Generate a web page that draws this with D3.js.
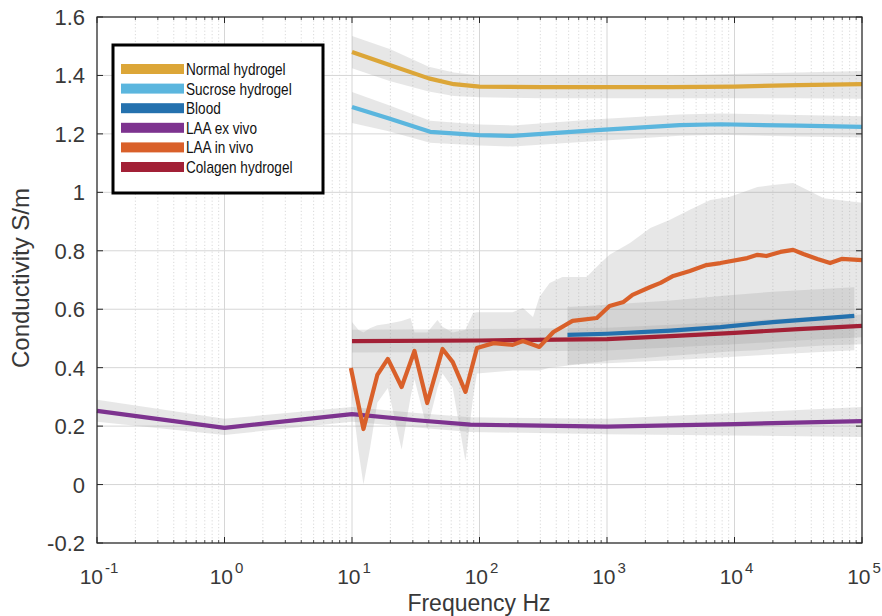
<!DOCTYPE html>
<html><head><meta charset="utf-8">
<script src="https://cdn.jsdelivr.net/npm/d3@7"></script>
<style>body{margin:0;background:#fff}</style>
</head><body><svg id="c" width="882" height="616"></svg>
<script>
// ---- data ----
const seriesNames = ["Normal hydrogel","Sucrose hydrogel","Blood","LAA  ex vivo","LAA in vivo","Colagen hydrogel"];
const seriesColors = ["#DCA638","#5BB6DE","#2471AE","#7D338F","#D9602A","#A22036"];

const normalF = [10, 20, 40, 63, 100, 316, 1000, 3162, 10000, 31623, 100000];
const normalV = [1.48, 1.435, 1.39, 1.37, 1.362, 1.36, 1.36, 1.36, 1.362, 1.367, 1.37];
const normalHi = [1.535, 1.49, 1.43, 1.41, 1.40, 1.40, 1.40, 1.40, 1.405, 1.41, 1.415];
const normalLo = [1.425, 1.38, 1.345, 1.33, 1.325, 1.322, 1.322, 1.322, 1.322, 1.322, 1.32];

const sucroseF = [10, 19, 41, 100, 182, 832, 3715, 7762, 31623, 100000];
const sucroseV = [1.292, 1.254, 1.207, 1.196, 1.193, 1.213, 1.23, 1.233, 1.228, 1.224];
const sucroseHi = [1.343, 1.30, 1.245, 1.232, 1.229, 1.25, 1.266, 1.27, 1.265, 1.26];
const sucroseLo = [1.237, 1.21, 1.17, 1.16, 1.157, 1.176, 1.194, 1.197, 1.191, 1.188];

const bloodF = [490, 1000, 3162, 7762, 20000, 87000];
const bloodV = [0.512, 0.516, 0.527, 0.539, 0.556, 0.577];
const bloodHi = [0.608, 0.615, 0.63, 0.645, 0.66, 0.675];
const bloodLo = [0.41, 0.415, 0.425, 0.435, 0.445, 0.46];

const exVivoF = [0.1, 1, 10, 32, 85, 1000, 10000, 100000];
const exVivoV = [0.252, 0.194, 0.241, 0.22, 0.205, 0.198, 0.207, 0.217];
const exVivoHi = [0.29, 0.225, 0.265, 0.245, 0.23, 0.225, 0.245, 0.265];
const exVivoLo = [0.215, 0.17, 0.215, 0.195, 0.18, 0.172, 0.168, 0.163];

const inVivoF = [9.8, 12.3, 15.8, 19.1, 24.5, 30.9, 38.9, 51.3, 61.7, 77.6, 95.5, 129, 182, 219, 295, 380, 537, 832, 1047, 1349, 1585, 2188, 2630, 3311, 4467, 6026, 7762, 12589, 15136, 17783, 22909, 28840, 34674, 44668, 56234, 69183, 100000];
const inVivoV = [0.399, 0.19, 0.375, 0.43, 0.334, 0.457, 0.279, 0.464, 0.419, 0.317, 0.467, 0.484, 0.478, 0.491, 0.471, 0.522, 0.56, 0.57, 0.611, 0.625, 0.649, 0.676, 0.69, 0.714, 0.731, 0.751, 0.758, 0.775, 0.786, 0.782, 0.796, 0.803, 0.789, 0.772, 0.758, 0.772, 0.768];
const inVivoBandF = [10, 11.2, 12.3, 13.8, 15.8, 19.1, 24.5, 28.8, 30.9, 38.9, 46.8, 51.3, 61.7, 77.6, 89.1, 95.5, 182, 219, 263, 295, 355, 447, 692, 891, 1047, 1514, 2188, 3090, 4467, 6457, 9120, 15136, 19953, 28840, 34674, 50119, 100000];
const inVivoHi = [0.556, 0.53, 0.52, 0.535, 0.545, 0.55, 0.56, 0.57, 0.52, 0.52, 0.563, 0.54, 0.52, 0.53, 0.587, 0.59, 0.59, 0.604, 0.573, 0.642, 0.69, 0.71, 0.71, 0.758, 0.786, 0.827, 0.878, 0.905, 0.94, 0.974, 0.984, 1.018, 1.025, 1.032, 1.015, 0.98, 0.964];
const inVivoLo = [0.30, 0.12, 0.0, 0.12, 0.28, 0.33, 0.12, 0.3, 0.36, 0.19, 0.33, 0.38, 0.33, 0.08, 0.3, 0.38, 0.39, 0.39, 0.39, 0.39, 0.40, 0.405, 0.415, 0.42, 0.425, 0.43, 0.435, 0.44, 0.445, 0.45, 0.455, 0.46, 0.465, 0.47, 0.472, 0.476, 0.48];

const colagenF = [10, 100, 1000, 3162, 10000, 31623, 100000];
const colagenV = [0.491, 0.493, 0.498, 0.508, 0.519, 0.532, 0.543];
const colagenHi = [0.53, 0.532, 0.537, 0.547, 0.558, 0.571, 0.582];
const colagenLo = [0.452, 0.454, 0.459, 0.469, 0.48, 0.493, 0.504];

const xTickExp = ["-1","0","1","2","3","4","5"];
const xTickVals = [0.1, 1, 10, 100, 1000, 10000, 100000];
const yTickVals = [-0.2, 0, 0.2, 0.4, 0.6, 0.8, 1, 1.2, 1.4, 1.6];
const yTickLabels = ["-0.2","0","0.2","0.4","0.6","0.8","1","1.2","1.4","1.6"];

// ---- chart ----
const svg = d3.select("#c");
const L = 97, R = 862, T = 17, B = 543;
const x = d3.scaleLog().domain([0.1, 1e5]).range([L, R]);
const y = d3.scaleLinear().domain([-0.2, 1.6]).range([B, T]);

// grid
const minor = [];
for (let e = -1; e < 5; e++) for (let k = 2; k <= 9; k++) minor.push(k * Math.pow(10, e));
const g = svg.append("g");
g.selectAll(".mg").data(minor).enter().append("line")
  .attr("x1", d => x(d)).attr("x2", d => x(d)).attr("y1", T).attr("y2", B)
  .attr("stroke", "#cfcfcf").attr("stroke-width", 0.8).attr("stroke-dasharray", "1.2,2.2");
g.selectAll(".Mg").data(xTickVals).enter().append("line")
  .attr("x1", d => x(d)).attr("x2", d => x(d)).attr("y1", T).attr("y2", B)
  .attr("stroke", "#d6d6d6").attr("stroke-width", 1);
g.selectAll(".yg").data(yTickVals).enter().append("line")
  .attr("x1", L).attr("x2", R).attr("y1", d => y(d)).attr("y2", d => y(d))
  .attr("stroke", "#d6d6d6").attr("stroke-width", 1);

// bands
function band(F, hi, lo) {
  const pts = F.map((f, i) => ({f, hi: hi[i], lo: lo[i]}));
  const area = d3.area().x(d => x(d.f)).y0(d => y(d.lo)).y1(d => y(d.hi));
  svg.append("path").datum(pts).attr("d", area)
    .attr("fill", "#9a9a9a").attr("fill-opacity", 0.24);
}
band(exVivoF, exVivoHi, exVivoLo);
band(colagenF, colagenHi, colagenLo);
band(inVivoBandF, inVivoHi, inVivoLo);
band(bloodF, bloodHi, bloodLo);
band(normalF, normalHi, normalLo);
band(sucroseF, sucroseHi, sucroseLo);

function line(F, V, color) {
  const pts = F.map((f, i) => ({f, v: V[i]}));
  const ln = d3.line().x(d => x(d.f)).y(d => y(d.v));
  svg.append("path").datum(pts).attr("d", ln)
    .attr("fill", "none").attr("stroke", color).attr("stroke-width", 4.2)
    .attr("stroke-linejoin", "round");
}
line(exVivoF, exVivoV, seriesColors[3]);
line(colagenF, colagenV, seriesColors[5]);
line(inVivoF, inVivoV, seriesColors[4]);
line(bloodF, bloodV, seriesColors[2]);
line(normalF, normalV, seriesColors[0]);
line(sucroseF, sucroseV, seriesColors[1]);

// axes frame & ticks
const ax = svg.append("g").attr("stroke", "#262626");
ax.append("rect").attr("x", L).attr("y", T).attr("width", R - L).attr("height", B - T)
  .attr("fill", "none").attr("stroke-width", 1.2);
xTickVals.forEach(v => {
  ax.append("line").attr("x1", x(v)).attr("x2", x(v)).attr("y1", B).attr("y2", B - 6);
  ax.append("line").attr("x1", x(v)).attr("x2", x(v)).attr("y1", T).attr("y2", T + 6);
});
minor.forEach(v => {
  ax.append("line").attr("x1", x(v)).attr("x2", x(v)).attr("y1", B).attr("y2", B - 3).attr("stroke-width", 0.8);
  ax.append("line").attr("x1", x(v)).attr("x2", x(v)).attr("y1", T).attr("y2", T + 3).attr("stroke-width", 0.8);
});
yTickVals.forEach(v => {
  ax.append("line").attr("x1", L).attr("x2", L + 6).attr("y1", y(v)).attr("y2", y(v));
  ax.append("line").attr("x1", R).attr("x2", R - 6).attr("y1", y(v)).attr("y2", y(v));
});

const font = "'Liberation Sans', Arial, Helvetica, sans-serif";
svg.selectAll(".yl").data(yTickVals).enter().append("text")
  .attr("x", L - 12).attr("y", d => y(d) + 8).attr("text-anchor", "end")
  .attr("font-family", font).attr("font-size", 22).attr("fill", "#383838")
  .text((d, i) => yTickLabels[i]);
xTickVals.forEach((v, i) => {
  const t = svg.append("text").attr("x", x(v) + 2).attr("y", 584).attr("text-anchor", "middle")
    .attr("font-family", font).attr("font-size", 21).attr("fill", "#383838");
  t.append("tspan").text("10");
  t.append("tspan").attr("dx", 2).attr("dy", -11).attr("font-size", 15).text(xTickExp[i]);
});
svg.append("text").attr("x", 479).attr("y", 611).attr("text-anchor", "middle")
  .attr("font-family", font).attr("font-size", 23).attr("fill", "#383838").text("Frequency Hz");
svg.append("text").attr("transform", "translate(29,278) rotate(-90)").attr("text-anchor", "middle")
  .attr("font-family", font).attr("font-size", 24).attr("fill", "#383838").text("Conductivity S/m");

// legend
const lg = svg.append("g");
lg.append("rect").attr("x", 113).attr("y", 45).attr("width", 210).attr("height", 148)
  .attr("fill", "#fff").attr("stroke", "#000").attr("stroke-width", 3);
const rowY = d3.scalePoint().domain(seriesNames).range([69, 167]);
seriesNames.forEach((n, i) => {
  lg.append("rect").attr("x", 121).attr("y", rowY(n) - 5).attr("width", 63).attr("height", 10)
    .attr("fill", seriesColors[i]);
  lg.append("text").attr("transform", `translate(186,${rowY(n) + 6}) scale(0.85,1)`)
    .attr("font-family", font).attr("font-size", 16).attr("fill", "#111").text(n);
});
</script></body></html>
